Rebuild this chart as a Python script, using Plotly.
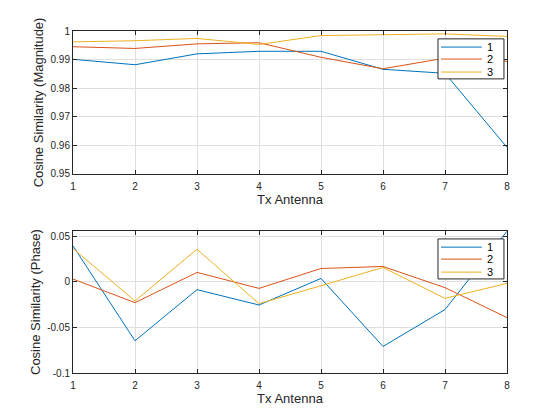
import plotly.graph_objects as go

antennas = [1, 2, 3, 4, 5, 6, 7, 8]
series_names = ["1", "2", "3"]
colors = ["#0072BD", "#D95319", "#EDB120"]

mag_1 = [0.9901, 0.9882, 0.9920, 0.9929, 0.9929, 0.9866, 0.9852, 0.9593]
mag_2 = [0.9945, 0.9939, 0.9955, 0.9959, 0.9908, 0.9868, 0.9905, 0.9894]
mag_3 = [0.9962, 0.9966, 0.9974, 0.9953, 0.9984, 0.9988, 0.9990, 0.9981]

ph_1 = [0.0393, -0.0647, -0.0087, -0.0255, 0.0036, -0.0709, -0.0305, 0.0553]
ph_2 = [0.0029, -0.0229, 0.0102, -0.0073, 0.0145, 0.0167, -0.0065, -0.0393]
ph_3 = [0.0364, -0.0211, 0.0356, -0.0240, -0.0044, 0.0156, -0.0182, -0.0018]

mag_ticks = [0.95, 0.96, 0.97, 0.98, 0.99, 1.0]
mag_ticktext = ["0.95", "0.96", "0.97", "0.98", "0.99", "1"]
ph_ticks = [-0.1, -0.05, 0, 0.05]
ph_ticktext = ["-0.1", "-0.05", "0", "0.05"]
x_ticks = antennas

fig = go.Figure()
for name, ys, c in zip(series_names, [mag_1, mag_2, mag_3], colors):
    fig.add_trace(go.Scatter(x=antennas, y=ys, mode="lines", name=name, showlegend=False,
                             line=dict(color=c, width=1), xaxis="x", yaxis="y"))
for name, ys, c in zip(series_names, [ph_1, ph_2, ph_3], colors):
    fig.add_trace(go.Scatter(x=antennas, y=ys, mode="lines", name=name, showlegend=False,
                             line=dict(color=c, width=1), xaxis="x2", yaxis="y2"))

axis_common = dict(showline=True, linecolor="#262626", linewidth=1, mirror="ticks",
                   ticks="inside", ticklen=4, tickcolor="#262626", automargin=False,
                   showgrid=True, gridcolor="#DFDFDF", gridwidth=1, zeroline=False,
                   tickfont=dict(family="Liberation Sans, Arial", size=10, color="#262626"))
xaxis_extra = dict(ticklabelstandoff=3)
title_font = dict(family="Liberation Sans, Arial", size=13, color="#262626")

# Manual legend boxes (paper coordinates)
shapes = []
annotations = []
legend_boxes = [
    dict(y0=0.860, y1=0.977, rows=[0.953, 0.918, 0.880]),
    dict(y0=0.275, y1=0.392, rows=[0.368, 0.333, 0.295]),
]
for box in legend_boxes:
    shapes.append(dict(type="rect", xref="paper", yref="paper", x0=0.841, x1=0.993,
                       y0=box["y0"], y1=box["y1"], line=dict(color="#262626", width=1),
                       fillcolor="white", layer="above"))
    for name, c, yr in zip(series_names, colors, box["rows"]):
        shapes.append(dict(type="line", xref="paper", yref="paper", x0=0.848, x1=0.942,
                           y0=yr, y1=yr, line=dict(color=c, width=1), layer="above"))
        annotations.append(dict(xref="paper", yref="paper", x=0.950, y=yr, text=name,
                                showarrow=False, xanchor="left", yanchor="middle",
                                font=dict(family="Liberation Sans, Arial", size=11, color="black")))

fig.update_layout(
    width=560, height=420,
    margin=dict(l=65, r=61, t=23, b=55, autoexpand=False),
    paper_bgcolor="white", plot_bgcolor="white",
    font=dict(family="Liberation Sans, Arial", size=10, color="#262626"),
    xaxis=dict(domain=[0, 1], range=[1, 8], tickvals=x_ticks, anchor="y",
               title=dict(text="Tx Antenna", standoff=1, font=title_font),
               **axis_common, **xaxis_extra),
    yaxis=dict(domain=[0.582, 1], range=[0.95, 1.0], tickvals=mag_ticks, ticktext=mag_ticktext,
               anchor="x", title=dict(text="Cosine Similarity (Magnitude)", standoff=3, font=title_font),
               **axis_common),
    xaxis2=dict(domain=[0, 1], range=[1, 8], tickvals=x_ticks, anchor="y2",
                title=dict(text="Tx Antenna", standoff=1, font=title_font),
                **axis_common, **xaxis_extra),
    yaxis2=dict(domain=[0, 0.415], range=[-0.1, 0.0555], tickvals=ph_ticks, ticktext=ph_ticktext,
                anchor="x2", title=dict(text="Cosine Similarity (Phase)", standoff=3, font=title_font),
                **axis_common),
    shapes=shapes,
    annotations=annotations,
    showlegend=False,
)

fig.write_html("out.html")
